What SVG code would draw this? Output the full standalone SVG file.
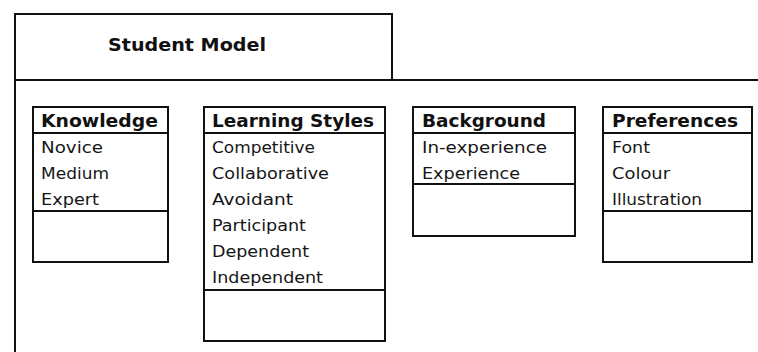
<svg xmlns="http://www.w3.org/2000/svg" width="758" height="352" viewBox="0 0 758 352">
<style>
.ln{fill:none;stroke:#111;stroke-width:2}
.bx{fill:#fff;stroke:#111;stroke-width:2}
.t{font-family:"DejaVu Sans","Liberation Sans",sans-serif;font-size:16.5px;fill:#151515}
.h{font-family:"DejaVu Sans","Liberation Sans",sans-serif;font-size:17px;font-weight:bold;fill:#111}
</style>
<rect width="758" height="352" fill="#fff"/>
<g id="package">
<path class="ln" d="M15,352 V14 H392 V80"/>
<path class="ln" d="M15,80 H758"/>
<text class="h" x="108" y="51" textLength="158" lengthAdjust="spacingAndGlyphs">Student Model</text>
</g>
<g id="knowledge">
<rect class="bx" x="33" y="107" width="135" height="155"/>
<path class="ln" d="M33,133 H168 M33,211 H168"/>
<text class="h" x="41" y="127" textLength="117" lengthAdjust="spacingAndGlyphs">Knowledge</text>
<text class="t" x="41" y="153" textLength="62" lengthAdjust="spacingAndGlyphs">Novice</text>
<text class="t" x="41" y="179" textLength="68" lengthAdjust="spacingAndGlyphs">Medium</text>
<text class="t" x="41" y="205" textLength="58" lengthAdjust="spacingAndGlyphs">Expert</text>
</g>
<g id="learning-styles">
<rect class="bx" x="204" y="107" width="181" height="234"/>
<path class="ln" d="M204,133 H385 M204,290 H385"/>
<text class="h" x="212" y="127" textLength="162" lengthAdjust="spacingAndGlyphs">Learning Styles</text>
<text class="t" x="212" y="153" textLength="103" lengthAdjust="spacingAndGlyphs">Competitive</text>
<text class="t" x="212" y="179" textLength="117" lengthAdjust="spacingAndGlyphs">Collaborative</text>
<text class="t" x="212" y="205" textLength="81" lengthAdjust="spacingAndGlyphs">Avoidant</text>
<text class="t" x="212" y="231" textLength="94" lengthAdjust="spacingAndGlyphs">Participant</text>
<text class="t" x="212" y="257" textLength="97" lengthAdjust="spacingAndGlyphs">Dependent</text>
<text class="t" x="212" y="283" textLength="111" lengthAdjust="spacingAndGlyphs">Independent</text>
</g>
<g id="background">
<rect class="bx" x="413" y="107" width="162" height="129"/>
<path class="ln" d="M413,133 H575 M413,184 H575"/>
<text class="h" x="422" y="127" textLength="124" lengthAdjust="spacingAndGlyphs">Background</text>
<text class="t" x="422" y="153" textLength="125" lengthAdjust="spacingAndGlyphs">In-experience</text>
<text class="t" x="422" y="179" textLength="98" lengthAdjust="spacingAndGlyphs">Experience</text>
</g>
<g id="preferences">
<rect class="bx" x="603" y="107" width="149" height="155"/>
<path class="ln" d="M603,133 H752 M603,211 H752"/>
<text class="h" x="612" y="127" textLength="126" lengthAdjust="spacingAndGlyphs">Preferences</text>
<text class="t" x="612" y="153" textLength="38" lengthAdjust="spacingAndGlyphs">Font</text>
<text class="t" x="612" y="179" textLength="58" lengthAdjust="spacingAndGlyphs">Colour</text>
<text class="t" x="612" y="205" textLength="90" lengthAdjust="spacingAndGlyphs">Illustration</text>
</g>
<g id="connectors"/>
</svg>
